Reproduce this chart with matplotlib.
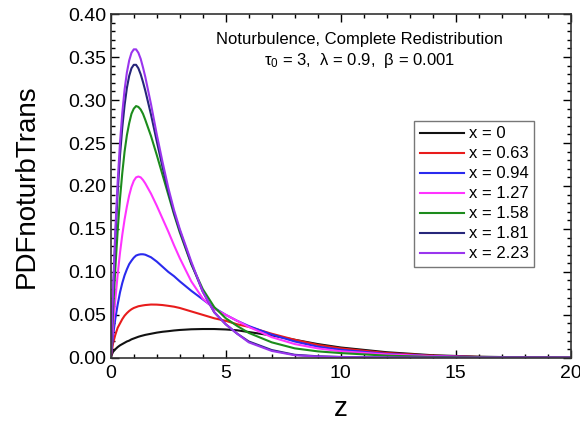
import numpy as np
import matplotlib.pyplot as plt
from matplotlib.ticker import MultipleLocator

plt.rcParams['font.family'] = ['Liberation Sans', 'DejaVu Sans']
plt.rcParams['mathtext.fontset'] = 'custom'
plt.rcParams['mathtext.rm'] = 'Liberation Sans'
plt.rcParams['mathtext.it'] = 'Liberation Sans:italic'

# z values
z = [0, 0.05, 0.1, 0.2, 0.3, 0.4, 0.5, 0.6, 0.7, 0.8, 0.9, 1.0, 1.1, 1.2, 1.3, 1.4, 1.5,
     1.75, 2.0, 2.25, 2.5, 2.75, 3.0, 3.5, 4.0, 4.5, 5.0, 5.5, 6.0, 7.0, 8.0, 9.0, 10.0,
     12.0, 14.0, 16.0, 18.0, 20.0]

labels = ['x = 0', 'x = 0.63', 'x = 0.94', 'x = 1.27', 'x = 1.58', 'x = 1.81', 'x = 2.23']
colors = ['#111111', '#e81c1c', '#2a2aee', '#ff33ff', '#1c8c1c', '#26267a', '#9a35ee']

pdf_x0 = [0, 0.004, 0.007, 0.010, 0.0125, 0.0145, 0.016, 0.0175, 0.019, 0.020, 0.0215, 0.0225,
          0.0235, 0.0245, 0.0253, 0.026, 0.0267, 0.028, 0.0293, 0.0303, 0.031, 0.0318, 0.0324,
          0.0332, 0.0335, 0.0335, 0.033, 0.032, 0.030, 0.026, 0.021, 0.016, 0.012, 0.0065,
          0.003, 0.0013, 0.0005, 0.0002]
pdf_x063 = [0, 0.009, 0.017, 0.027, 0.035, 0.040, 0.045, 0.049, 0.052, 0.0545, 0.0565, 0.058,
            0.059, 0.060, 0.0605, 0.061, 0.0614, 0.062, 0.0619, 0.0614, 0.0605, 0.0595, 0.058,
            0.054, 0.050, 0.046, 0.043, 0.039, 0.036, 0.028, 0.021, 0.015, 0.011, 0.0055,
            0.0025, 0.001, 0.0004, 0.0001]
pdf_x094 = [0, 0.013, 0.026, 0.046, 0.062, 0.076, 0.087, 0.096, 0.103, 0.109, 0.113, 0.1165,
            0.119, 0.120, 0.1205, 0.1205, 0.120, 0.117, 0.112, 0.106, 0.100, 0.095, 0.089,
            0.078, 0.068, 0.058, 0.050, 0.043, 0.037, 0.027, 0.019, 0.013, 0.0093, 0.0045,
            0.002, 0.0008, 0.0003, 0.0001]
pdf_x127 = [0, 0.018, 0.036, 0.068, 0.097, 0.122, 0.143, 0.161, 0.176, 0.189, 0.199, 0.206,
            0.210, 0.211, 0.210, 0.207, 0.203, 0.191, 0.177, 0.162, 0.147, 0.131, 0.116,
            0.089, 0.069, 0.057, 0.050, 0.043, 0.036, 0.024, 0.016, 0.011, 0.0076, 0.004,
            0.0018, 0.0007, 0.0002, 0]
pdf_x158 = [0, 0.028, 0.055, 0.105, 0.148, 0.185, 0.215, 0.240, 0.259, 0.273, 0.284, 0.290,
            0.293, 0.292, 0.289, 0.284, 0.277, 0.258, 0.236, 0.213, 0.190, 0.167, 0.146,
            0.109, 0.080, 0.059, 0.046, 0.037, 0.029, 0.018, 0.011, 0.0075, 0.0055, 0.0025,
            0.001, 0.0004, 0.0001, 0]
pdf_x181 = [0, 0.037, 0.075, 0.140, 0.193, 0.235, 0.268, 0.294, 0.314, 0.328, 0.337, 0.341,
            0.341, 0.337, 0.330, 0.321, 0.311, 0.283, 0.252, 0.222, 0.194, 0.169, 0.148,
            0.110, 0.077, 0.053, 0.039, 0.028, 0.019, 0.009, 0.0035, 0.0018, 0.001, 0.0004,
            0.0001, 0, 0, 0]
pdf_x223 = [0, 0.040, 0.080, 0.150, 0.205, 0.250, 0.285, 0.312, 0.332, 0.346, 0.355, 0.359,
            0.359, 0.355, 0.348, 0.338, 0.327, 0.295, 0.260, 0.228, 0.198, 0.172, 0.150,
            0.112, 0.077, 0.053, 0.039, 0.028, 0.018, 0.008, 0.003, 0.0015, 0.0008, 0.0003,
            0.0001, 0, 0, 0]

series = [pdf_x0, pdf_x063, pdf_x094, pdf_x127, pdf_x158, pdf_x181, pdf_x223]

fig = plt.figure(figsize=(5.8, 4.28), dpi=100)
ax = fig.add_axes([0.191, 0.164, 0.793, 0.803])

for vals, lab, c in zip(series, labels, colors):
    ax.plot(z, vals, color=c, lw=1.5, label=lab)

ax.set_xlim(0, 20)
ax.set_ylim(0, 0.40)
ax.xaxis.set_major_locator(MultipleLocator(5))
ax.xaxis.set_minor_locator(MultipleLocator(1))
ax.yaxis.set_major_locator(MultipleLocator(0.05))
ax.yaxis.set_minor_locator(MultipleLocator(0.01))
ax.yaxis.set_major_formatter(plt.FormatStrFormatter('%.2f'))
ax.tick_params(which='both', direction='in', top=True, right=True, labelsize=14)
ax.tick_params(which='major', length=6, width=1)
ax.tick_params(which='minor', length=3, width=1)
ax.tick_params(axis='x', pad=5)
for sp in ax.spines.values():
    sp.set_linewidth(1.2)
    sp.set_color('#333333')

ax.set_xlabel('z', fontsize=20, labelpad=10)
ax.set_ylabel('PDFnoturbTrans', fontsize=20, labelpad=20)

ax.text(0.54, 0.925, 'Noturbulence, Complete Redistribution', transform=ax.transAxes,
        ha='center', va='center', fontsize=12)
ax.text(0.54, 0.865, 'τ$_0$ = 3,  λ = 0.9,  β = 0.001', transform=ax.transAxes,
        ha='center', va='center', fontsize=12)

leg = ax.legend(loc='upper left', bbox_to_anchor=(0.66, 0.69), fontsize=12, frameon=True,
                fancybox=False, edgecolor='#555555', handlelength=2.6, handletextpad=0.3,
                labelspacing=0.3, borderpad=0.35, borderaxespad=0)
leg.get_frame().set_linewidth(1.0)

fig.savefig('out.png', dpi=100)
